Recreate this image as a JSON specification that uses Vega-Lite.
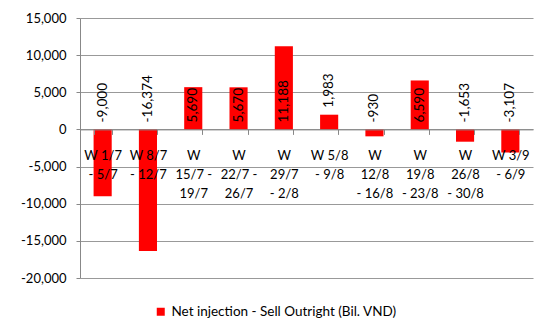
{
  "$schema": "https://vega.github.io/schema/vega-lite/v6.json",
  "width": 453,
  "height": 260,
  "autosize": {"type": "none"},
  "padding": {"left": 80, "top": 18, "right": 17, "bottom": 55},
  "background": "white",
  "config": {
    "font": "Lato",
    "view": {"stroke": null},
    "axis": {"labelFont": "Lato", "labelFontSize": 13, "labelColor": "#000000"}
  },
  "data": {
    "values": [
      {"week": "W 1/7|- 5/7", "value": -9000, "series": "Net injection - Sell Outright (Bil. VND)"},
      {"week": "W 8/7|- 12/7", "value": -16374, "series": "Net injection - Sell Outright (Bil. VND)"},
      {"week": "W|15/7 -|19/7", "value": 5690, "series": "Net injection - Sell Outright (Bil. VND)"},
      {"week": "W|22/7 -|26/7", "value": 5670, "series": "Net injection - Sell Outright (Bil. VND)"},
      {"week": "W|29/7|- 2/8", "value": 11188, "series": "Net injection - Sell Outright (Bil. VND)"},
      {"week": "W 5/8|- 9/8", "value": 1983, "series": "Net injection - Sell Outright (Bil. VND)"},
      {"week": "W|12/8|- 16/8", "value": -930, "series": "Net injection - Sell Outright (Bil. VND)"},
      {"week": "W|19/8|- 23/8", "value": 6590, "series": "Net injection - Sell Outright (Bil. VND)"},
      {"week": "W|26/8|- 30/8", "value": -1653, "series": "Net injection - Sell Outright (Bil. VND)"},
      {"week": "W 3/9|- 6/9", "value": -3107, "series": "Net injection - Sell Outright (Bil. VND)"}
    ]
  },
  "resolve": {"axis": {"x": "independent", "y": "independent"}},
  "layer": [
    {
      "mark": {"type": "bar"},
      "encoding": {
        "x": {
          "field": "week", "type": "nominal", "sort": null,
          "scale": {"paddingInner": 0.6, "paddingOuter": 0.3},
          "axis": {
            "title": null, "labelAngle": 0,
            "labelExpr": "isValid(datum.value) ? split(datum.value, '|') : ''",
            "labelLineHeight": 19,
            "offset": -148.6,
            "tickBand": "extent",
            "tickSize": 5, "tickColor": "#888888",
            "domainColor": "#888888",
            "labelPadding": 15,
            "zindex": 1
          }
        },
        "y": {
          "field": "value", "type": "quantitative",
          "scale": {"domain": [-20000, 15000], "nice": false, "zero": false},
          "axis": {
            "title": null,
            "values": [-20000, -15000, -10000, -5000, 0, 5000, 10000, 15000],
            "labelExpr": "replace(format(datum.value, ','), '\u2212', '-')",
            "grid": true, "gridColor": "#999999", "gridWidth": 1, "gridOpacity": 1,
            "domainColor": "#888888", "tickColor": "#888888",
            "tickSize": 4, "labelPadding": 10
          }
        },
        "color": {
          "field": "series", "type": "nominal",
          "scale": {"range": ["#ff0000"]},
          "legend": {
            "title": null, "orient": "none",
            "legendX": 74, "legendY": 287,
            "symbolType": "square", "symbolSize": 64, "symbolStrokeWidth": 0,
            "labelFontSize": 13.5, "labelColor": "#000000", "labelFont": "Lato",
            "labelOffset": 4, "labelLimit": 400
          }
        }
      }
    },
    {
      "transform": [
        {"calculate": "datum.value > 0 && datum.value < 3000 ? datum.value : 0", "as": "labelAt"},
        {"calculate": "replace(format(datum.value, ','), '\u2212', '-')", "as": "labelText"}
      ],
      "mark": {"type": "text", "angle": 270, "align": "left", "baseline": "middle", "dx": 7, "fontSize": 13.5, "color": "#000000"},
      "encoding": {
        "x": {"field": "week", "type": "nominal", "sort": null, "axis": null},
        "y": {"field": "labelAt", "type": "quantitative", "axis": null},
        "text": {"field": "labelText"}
      }
    }
  ]
}
